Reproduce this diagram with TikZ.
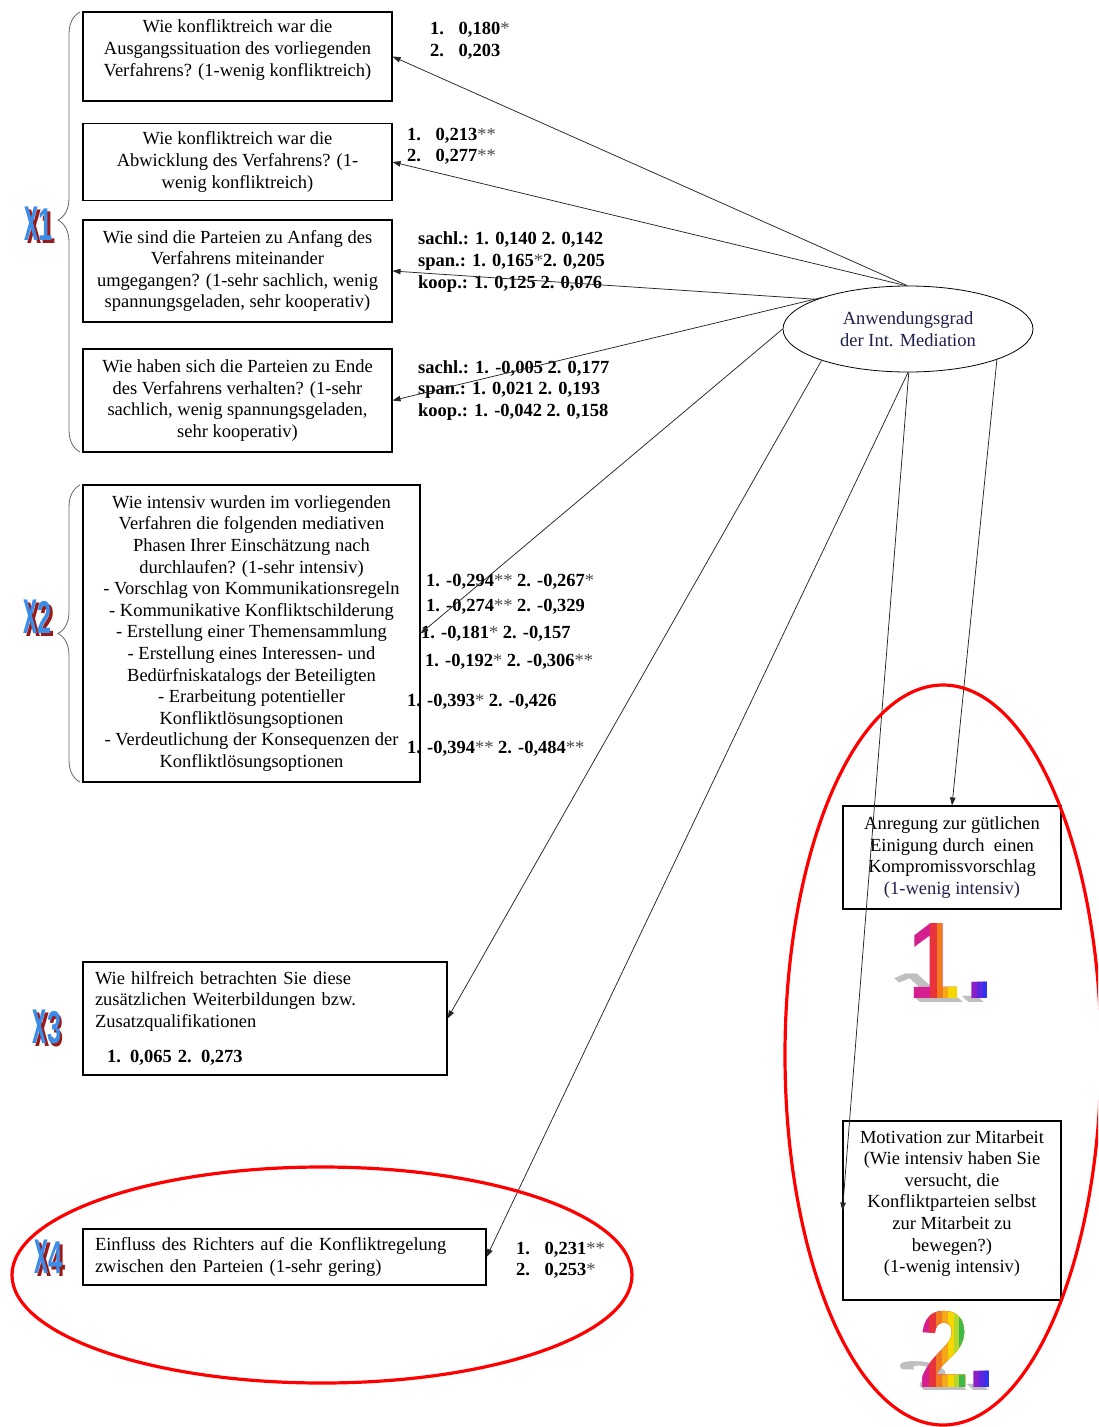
\documentclass[tikz,border=0pt]{standalone}
\usepackage{fontspec}
\setmainfont{Liberation Serif}
\newfontfamily\digitfont{Liberation Sans}
\usepackage{graphicx}
\usetikzlibrary{shapes.geometric,arrows.meta,decorations.pathreplacing}
\definecolor{navy}{rgb}{0.12,0.12,0.30}
\definecolor{xblue}{HTML}{3B8DE8}
\definecolor{xred}{HTML}{9A1A1A}
\definecolor{dgA}{HTML}{D3208E}
\definecolor{dgB}{HTML}{E8323C}
\definecolor{dgC}{HTML}{F27A1E}
\definecolor{dgD}{HTML}{F5A81A}
\definecolor{dgE}{HTML}{F5D800}
\definecolor{dgF}{HTML}{B5D62A}
\definecolor{dgG}{HTML}{3DBB4A}
\definecolor{dgPa}{HTML}{8A1FC8}
\definecolor{dgPb}{HTML}{5A26E0}
\definecolor{dgPc}{HTML}{2A34F2}
\newcommand\xglyphs[1]{\scalebox{0.55}[1.38]{x}\scalebox{0.55}[1]{#1}}
\newcommand\xlab[1]{\rlap{\raisebox{-3pt}{\hspace*{2.5pt}\textcolor{xred}{\xglyphs{#1}}}}\textcolor{xblue}{\xglyphs{#1}}}
\newcommand\nn[2]{\makebox[28.5pt][l]{#1}#2}
\newcommand\st[1]{\textcolor{black!70}{\textmd{#1}}}
\begin{document}
\begin{tikzpicture}[x=1pt,y=-1pt,
  txt/.style={font=\fontsize{18.5}{21.6}\selectfont, inner sep=0pt, align=center},
  qbox/.style={draw, line width=1.1pt, inner sep=0pt},
  lbl/.style={font=\fontsize{18.5}{21.6}\selectfont\bfseries, inner sep=0pt, anchor=base west},
  arr/.style={draw=black!85, line width=0.75pt, -{Triangle[length=8pt,width=5.5pt]}},
  redell/.style={draw=red, line width=3.2pt},
  bracest/.style={draw=black!60, line width=0.8pt, decorate},
  bigdig/.style={font=\digitfont\bfseries\fontsize{109}{120}\selectfont, inner sep=0pt, anchor=base west},
  xl/.style={font=\digitfont\bfseries\fontsize{46}{50}\selectfont, inner sep=0pt, anchor=base},
]
\fill[white, use as bounding box] (0,0) rectangle (1098,1427);
\clip (0,0) rectangle (1098,1427);

% ---------- x1 group ----------
\node[qbox, minimum width=309, minimum height=89] (b1) at (237.5,56.5) {};
\node[txt] (b1t) at (237.5,50) {Wie konfliktreich war die\\Ausgangssituation des vorliegenden\\Verfahrens? (1-wenig konfliktreich)};
\node[qbox, txt, minimum width=309, minimum height=77] (b2) at (237.5,162) {Wie konfliktreich war die\\Abwicklung des Verfahrens? (1-\\wenig konfliktreich)};
\node[qbox, txt, minimum width=309, minimum height=102] (b3) at (237.5,271) {Wie sind die Parteien zu Anfang des\\Verfahrens miteinander\\umgegangen? (1-sehr sachlich, wenig\\spannungsgeladen, sehr kooperativ)};
\node[qbox, txt, minimum width=309, minimum height=103] (b4) at (237.5,400.5) {Wie haben sich die Parteien zu Ende\\des Verfahrens verhalten? (1-sehr\\sachlich, wenig spannungsgeladen,\\sehr kooperativ)};

\node[lbl] (l1a) at (430,34) {\nn{1.}{0,180\st{*}}};
\node[lbl] (l1b) at (430,56) {\nn{2.}{0,203}};
\node[lbl] (l2a) at (407,140) {\nn{1.}{0,213\st{**}}};
\node[lbl] (l2b) at (407,161) {\nn{2.}{0,277\st{**}}};
\node[lbl] (l3a) at (418,244) {sachl.: 1. 0,140 2. 0,142};
\node[lbl] (l3b) at (418,266) {span.: 1. 0,165\st{*}2. 0,205};
\node[lbl] (l3c) at (418,288) {koop.: 1. 0,125 2. 0,076};
\node[lbl] (l4a) at (418,373) {sachl.: 1. -0,005 2. 0,177};
\node[lbl] (l4b) at (418,394) {span.: 1. 0,021 2. 0,193};
\node[lbl] (l4c) at (418,416) {koop.: 1. -0,042 2. 0,158};

\draw[bracest, decoration={brace, amplitude=22pt, aspect=0.527}] (80,452) -- (80,12);
\node[xl] (x1l) at (39,240) {\xlab{1}};

% ---------- x2 group ----------
\node[qbox, txt, minimum width=337, minimum height=297] (x2b) at (251.5,633.5) {Wie intensiv wurden im vorliegenden\\Verfahren die folgenden mediativen\\Phasen Ihrer Einschätzung nach\\durchlaufen? (1-sehr intensiv)\\- Vorschlag von Kommunikationsregeln\\- Kommunikative Konfliktschilderung\\- Erstellung einer Themensammlung\\- Erstellung eines Interessen- und\\Bedürfniskatalogs der Beteiligten\\- Erarbeitung potentieller\\Konfliktlösungsoptionen\\- Verdeutlichung der Konsequenzen der\\Konfliktlösungsoptionen};
\node[lbl] (m1) at (426,586) {1. -0,294\st{**} 2. -0,267\st{*}};
\node[lbl] (m2) at (426,611) {1. -0,274\st{**} 2. -0,329};
\node[lbl] (m3) at (421,638) {1. -0,181\st{*} 2. -0,157};
\node[lbl] (m4) at (425,666) {1. -0,192\st{*} 2. -0,306\st{**}};
\node[lbl] (m5) at (407,706) {1. -0,393\st{*} 2. -0,426};
\node[lbl] (m6) at (407,753) {1. -0,394\st{**} 2. -0,484\st{**}};
\draw[bracest, decoration={brace, amplitude=22pt}] (80,782) -- (80,485);
\node[xl] (x2l) at (38,633) {\xlab{2}};

% ---------- x3 ----------
\node[qbox, txt, align=left, text width=340, minimum width=364, minimum height=113] (x3b) at (265,1018.5) {Wie hilfreich betrachten Sie diese\\zusätzlichen Weiterbildungen bzw.\\Zusatzqualifikationen\\[14pt]\hspace*{12pt}\textbf{1. 0,065 2. 0,273}};
\node[xl] (x3l) at (47,1043) {\xlab{3}};

% ---------- x4 ----------
\node[qbox, txt, align=left, text width=379, minimum width=403, minimum height=56] (x4b) at (284.5,1257) {Einfluss des Richters auf die Konfliktregelung\\zwischen den Parteien (1-sehr gering)};
\node[lbl] (l5a) at (516,1254) {\nn{1.}{0,231\st{**}}};
\node[lbl] (l5b) at (516,1275) {\nn{2.}{0,253\st{*}}};
\node[xl] (x4l) at (49,1273) {\xlab{4}};

% ---------- right side ----------
\node[draw, ellipse, line width=0.8pt, minimum width=250, minimum height=86, txt, text=navy] (ell) at (908,329) {Anwendungsgrad\\der Int. Mediation};
\node[qbox, txt, minimum width=218, minimum height=103] (anr) at (952,857.5) {Anregung zur gütlichen\\Einigung durch~ einen\\Kompromissvorschlag\\\textcolor{navy}{(1-wenig intensiv)}};
\node[qbox, minimum width=218, minimum height=179] (mot) at (952,1210.5) {};
\node[txt] (mott) at (952,1203.5) {Motivation zur Mitarbeit\\(Wie intensiv haben Sie\\versucht, die\\Konfliktparteien selbst\\zur Mitarbeit zu\\bewegen?)\\(1-wenig intensiv)};

% ---------- connectors ----------
\draw[arr] (ell.91) -- (b1.east);
\draw[arr] (ell.93) -- (b2.east);
\draw[arr] (ell.162) -- (b3.east);
\draw[arr] (ell.160) -- (b4.east);
\draw[arr] (ell.180) -- (x2b.east);
\draw[arr] (ell.200) -- (x3b.east);
\draw[arr] (ell.270) -- (x4b.east);
\draw[arr] (ell.271) -- (mot.west);
\draw[arr] (ell.341) -- (anr.north);

% ---------- big numbers ----------
\begin{scope}[shift={(914,1002)}, xslant=-1.1, yscale=0.38, transform shape]
  \node[bigdig, text=black!25] (sh1) at (0,0) {\scalebox{0.85}[1]{1}\hspace{-4pt}.};
\end{scope}
\foreach \n/\a/\c in {1/890/dgA, 2/930/dgB, 3/937/dgC, 4/943/dgD, 5/948/dgE}{
  \begin{scope}
    \clip (\a,890) rectangle (1010,1010);
    \node[bigdig, text=\c] (one\n) at (908,998) {\scalebox{0.85}[1]{1}};
  \end{scope}
}
\foreach \n/\a/\c in {1/955/dgPa, 2/977/dgPb, 3/983/dgPc}{
  \begin{scope}
    \clip (\a,890) rectangle (1010,1010);
    \node[bigdig, text=\c] (pa\n) at (964,998) {.};
  \end{scope}
}
\begin{scope}[shift={(921,1390)}, xslant=-1.1, yscale=0.38, transform shape]
  \node[bigdig, text=black!25] (sh2) at (0,0) {\scalebox{0.82}[1]{2}\hspace{-4pt}.};
\end{scope}
\foreach \n/\a/\c in {1/900/dgA, 2/929/dgB, 3/936/dgC, 4/942/dgD, 5/948/dgE, 6/954/dgF, 7/959/dgG}{
  \begin{scope}
    \clip (\a,1280) rectangle (972,1400);
    \node[bigdig, text=\c] (two\n) at (919,1387) {\scalebox{0.82}[1]{2}};
  \end{scope}
}
\foreach \n/\a/\c in {1/960/dgPa, 2/979/dgPb, 3/985/dgPc}{
  \begin{scope}
    \clip (\a,1280) rectangle (1010,1400);
    \node[bigdig, text=\c] (pb\n) at (966,1387) {.};
  \end{scope}
}

% ---------- red ellipses ----------
\draw[redell] (943,1055) ellipse [x radius=158, y radius=370];
\draw[redell] (322,1275) ellipse [x radius=310, y radius=108];
\end{tikzpicture}
\end{document}
